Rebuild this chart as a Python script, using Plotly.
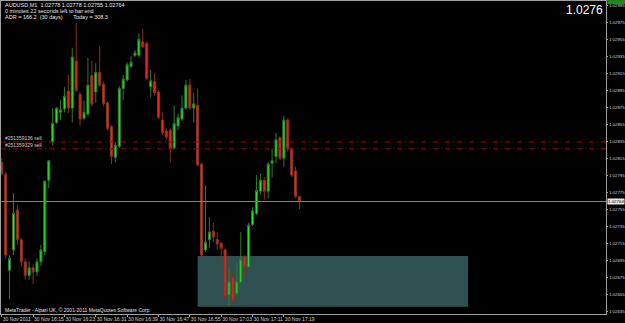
import pandas as pd
import plotly.graph_objects as go

# ---- data (AUDUSD M1, 30 Nov 2011, from 16:07) ----
start_time = "2011-11-30 16:07"
open_ = [1.02810, 1.02796, 1.02683, 1.02707, 1.02754, 1.02719, 1.02693, 1.02677, 1.02686, 1.02681,
         1.02693, 1.02705, 1.02789, 1.02834, 1.02857, 1.02869, 1.02873, 1.02894, 1.02874, 1.02929,
         1.02890, 1.02862, 1.02867, 1.02912, 1.02893, 1.02916, 1.02902, 1.02880, 1.02852, 1.02816,
         1.02829, 1.02897, 1.02907, 1.02923, 1.02936, 1.02936, 1.02952, 1.02950, 1.02899, 1.02905,
         1.02893, 1.02860, 1.02847, 1.02848, 1.02827, 1.02853, 1.02861, 1.02874, 1.02901, 1.02874,
         1.02877, 1.02808, 1.02707, 1.02719, 1.02729, 1.02719, 1.02715, 1.02707, 1.02654, 1.02675,
         1.02656, 1.02669, 1.02699, 1.02687, 1.02737, 1.02750, 1.02776, 1.02789, 1.02776, 1.02809,
         1.02817, 1.02839, 1.02815, 1.02860, 1.02826, 1.02800, 1.02770]
high = [1.02815, 1.02799, 1.02701, 1.02774, 1.02760, 1.02721, 1.02697, 1.02693, 1.02690, 1.02697,
        1.02713, 1.02789, 1.02813, 1.02874, 1.02875, 1.02883, 1.02899, 1.02913, 1.02945, 1.02974,
        1.02893, 1.02883, 1.02933, 1.02930, 1.02927, 1.02947, 1.02905, 1.02882, 1.02854, 1.02834,
        1.02900, 1.02913, 1.02928, 1.02935, 1.02942, 1.02962, 1.02967, 1.02952, 1.02919, 1.02915,
        1.02895, 1.02869, 1.02850, 1.02850, 1.02877, 1.02868, 1.02889, 1.02907, 1.02908, 1.02892,
        1.02897, 1.02810, 1.02783, 1.02746, 1.02739, 1.02728, 1.02716, 1.02709, 1.02686, 1.02681,
        1.02692, 1.02728, 1.02701, 1.02739, 1.02757, 1.02795, 1.02797, 1.02793, 1.02810, 1.02826,
        1.02845, 1.02841, 1.02865, 1.02862, 1.02828, 1.02805, 1.02770]
low = [1.02795, 1.02697, 1.02649, 1.02701, 1.02713, 1.02688, 1.02672, 1.02672, 1.02667, 1.02676,
       1.02688, 1.02701, 1.02780, 1.02830, 1.02855, 1.02860, 1.02869, 1.02868, 1.02857, 1.02893,
       1.02853, 1.02860, 1.02865, 1.02876, 1.02880, 1.02899, 1.02876, 1.02848, 1.02808, 1.02810,
       1.02827, 1.02883, 1.02905, 1.02921, 1.02934, 1.02934, 1.02945, 1.02907, 1.02887, 1.02889,
       1.02861, 1.02842, 1.02837, 1.02810, 1.02825, 1.02848, 1.02859, 1.02872, 1.02872, 1.02857,
       1.02805, 1.02695, 1.02705, 1.02709, 1.02716, 1.02707, 1.02692, 1.02649, 1.02641, 1.02641,
       1.02652, 1.02668, 1.02675, 1.02686, 1.02735, 1.02748, 1.02772, 1.02766, 1.02768, 1.02792,
       1.02809, 1.02813, 1.02805, 1.02823, 1.02793, 1.02768, 1.02755]
close = [1.02797, 1.02701, 1.02697, 1.02750, 1.02719, 1.02693, 1.02677, 1.02686, 1.02681, 1.02693,
         1.02707, 1.02788, 1.02812, 1.02856, 1.02874, 1.02872, 1.02888, 1.02874, 1.02934, 1.02895,
         1.02861, 1.02869, 1.02901, 1.02879, 1.02916, 1.02901, 1.02879, 1.02850, 1.02817, 1.02830,
         1.02897, 1.02908, 1.02925, 1.02928, 1.02939, 1.02955, 1.02946, 1.02909, 1.02906, 1.02892,
         1.02863, 1.02845, 1.02840, 1.02826, 1.02856, 1.02863, 1.02874, 1.02901, 1.02874, 1.02879,
         1.02807, 1.02701, 1.02716, 1.02728, 1.02722, 1.02714, 1.02709, 1.02652, 1.02670, 1.02647,
         1.02670, 1.02696, 1.02687, 1.02736, 1.02753, 1.02777, 1.02789, 1.02776, 1.02808, 1.02812,
         1.02837, 1.02815, 1.02860, 1.02826, 1.02795, 1.02770, 1.02764]

current_price = 1.02764
order_levels = [1.02834, 1.02826]
order_labels = ["#251359136 sell", "#251359329 sell"]
zone_price = [1.02640, 1.02700]
zone_time = ["2011-11-30 16:57", "2011-11-30 18:06"]

price_ticks = [1.02635, 1.02655, 1.02675, 1.02695, 1.02715, 1.02735, 1.02755, 1.02775, 1.02795,
               1.02815, 1.02835, 1.02855, 1.02875, 1.02895, 1.02915, 1.02935, 1.02955, 1.02975, 1.02995]
time_ticks = ["2011-11-30 16:07", "2011-11-30 16:15", "2011-11-30 16:23", "2011-11-30 16:31",
              "2011-11-30 16:39", "2011-11-30 16:47", "2011-11-30 16:55", "2011-11-30 17:03",
              "2011-11-30 17:11", "2011-11-30 17:19"]
time_labels = ["30 Nov 2011", "30 Nov 16:15", "30 Nov 16:23", "30 Nov 16:31", "30 Nov 16:39",
               "30 Nov 16:47", "30 Nov 16:55", "30 Nov 17:03", "30 Nov 17:11", "30 Nov 17:19"]

header_lines = ["AUDUSD,M1  1.02778 1.02778 1.02755 1.02764",
                "0 minutes 22 seconds left to bar end",
                "ADR = 166.2  (30 days)       Today = 308.3"]

times = pd.date_range(start=start_time, periods=len(open_), freq="min")

fig = go.Figure()
fig.add_trace(go.Candlestick(
    x=times, open=open_, high=high, low=low, close=close,
    increasing=dict(line=dict(color="#2f7a2f", width=1), fillcolor="#22ee22"),
    decreasing=dict(line=dict(color="#8a3020", width=1), fillcolor="#ff2020"),
    showlegend=False, hoverinfo="skip"))

shapes = [
    dict(type="rect", xref="x", yref="y", x0=zone_time[0], x1=zone_time[1],
         y0=zone_price[0], y1=zone_price[1], fillcolor="#2f5050", line=dict(width=0), layer="below"),
    dict(type="line", xref="paper", yref="y", x0=0, x1=1, y0=current_price, y1=current_price,
         line=dict(color="#808080", width=1)),
    dict(type="rect", xref="paper", yref="paper", x0=1.002, x1=1.032, y0=0.99, y1=1.003,
         fillcolor="#1f8a1f", line=dict(width=0)),
]
for lv in order_levels:
    shapes.append(dict(type="line", xref="paper", yref="y", x0=0, x1=1, y0=lv, y1=lv,
                       line=dict(color="#b00000", width=1, dash="5px,3px,1px,3px")))

ann = []
for k, t in enumerate(header_lines):
    ann.append(dict(xref="paper", yref="paper", x=0, y=1, xanchor="left", yanchor="top",
                    xshift=2, yshift=1 - 6 * k, text=t, showarrow=False,
                    font=dict(family="Liberation Sans", size=5.5, color="#e6e6e6")))
ann.append(dict(xref="paper", yref="paper", x=1, y=1, xanchor="right", yanchor="top",
                xshift=-1, yshift=0, text="1.0276", showarrow=False,
                font=dict(family="Liberation Sans", size=12, color="#ffffff")))
ann.append(dict(xref="paper", yref="paper", x=0, y=0, xanchor="left", yanchor="bottom",
                xshift=2, yshift=-1, text="MetaTrader - Alpari UK, © 2001-2011 MetaQuotes Software Corp.",
                showarrow=False, font=dict(family="Liberation Sans", size=5, color="#e0e0e0")))
for lv, lb in zip(order_levels, order_labels):
    ann.append(dict(xref="paper", yref="y", x=0, y=lv, xanchor="left", yanchor="bottom",
                    xshift=2, yshift=-1, text=lb, showarrow=False,
                    font=dict(family="Liberation Sans", size=5, color="#d0d0d0")))
ann.append(dict(xref="paper", yref="y", x=1, y=current_price, xanchor="left", yanchor="middle",
                xshift=1, text="1.02764", showarrow=False, bgcolor="#e8e8e8", borderpad=0,
                font=dict(family="Liberation Sans", size=4.4, color="#000000")))

fig.update_layout(
    width=625, height=323,
    margin=dict(l=1, r=19, t=1, b=9),
    paper_bgcolor="#000000", plot_bgcolor="#000000",
    boxgap=0.25,
    shapes=shapes, annotations=ann,
    showlegend=False,
    xaxis=dict(
        type="date", range=["2011-11-30 16:06:49", "2011-11-30 18:41:12"],
        rangeslider=dict(visible=False), automargin=False, tickangle=0,
        tickvals=time_ticks, ticktext=time_labels, ticklabelposition="outside right",
        tickfont=dict(family="Liberation Sans", size=5, color="#d0d0d0"),
        ticks="outside", ticklen=2, tickcolor="#a0a0a0",
        showgrid=False, zeroline=False,
        showline=True, linecolor="#a0a0a0", linewidth=1, mirror=True,
    ),
    yaxis=dict(
        side="right", range=[1.026316, 1.030000], automargin=False,
        tickvals=price_ticks, ticktext=[f"{v:.5f}" for v in price_ticks],
        tickfont=dict(family="Liberation Sans", size=4.4, color="#d0d0d0"),
        ticks="outside", ticklen=1, tickcolor="#a0a0a0",
        showgrid=False, zeroline=False,
        showline=True, linecolor="#a0a0a0", linewidth=1, mirror=True,
    ),
)

fig.write_html("out.html")
